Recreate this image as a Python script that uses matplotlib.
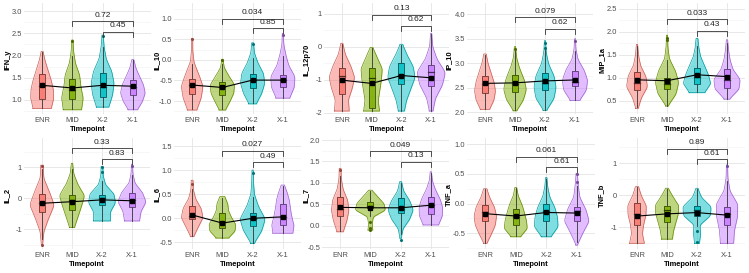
import numpy as np
import matplotlib
matplotlib.use("Agg")
import matplotlib.pyplot as plt
from matplotlib.colors import to_rgb

plt.rcParams['font.family'] = ['Liberation Sans', 'DejaVu Sans']

# ---------------- data ----------------
groups = ["ENR", "MID", "X-2", "X-1"]
colors = ["#F8766D", "#7CAE00", "#00BFC4", "#C77CFF"]
panels = ["IFN_y", "IL_10", "IL_12p70", "IP_10", "MIP_1a",
          "IL_2", "IL_6", "IL_7", "TNF_a", "TNF_b"]

yticks = [[1.0, 1.5, 2.0, 2.5, 3.0], [-1.0, -0.5, 0.0, 0.5, 1.0], [-2, -1, 0, 1],
          [2.0, 2.5, 3.0, 3.5, 4.0], [0.5, 1.0, 1.5, 2.0, 2.5],
          [-1, 0, 1], [-0.5, 0.0, 0.5, 1.0, 1.5], [-0.5, 0.0, 0.5, 1.0, 1.5, 2.0],
          [-0.5, 0.0, 0.5, 1.0], [-1, 0, 1]]
int_ticks = [False, False, True, False, False, True, False, False, False, True]
ylims = [(0.685, 3.18), (-1.317, 1.39), (-2.04, 1.334), (1.965, 4.23), (0.217, 2.63),
         (-1.635, 1.945), (-0.637, 1.666), (-0.541, 2.047), (-0.766, 1.106), (-1.678, 1.79)]

# violin extents and density profile (half-widths, bottom -> top)
v_lo = [[0.81, 0.78, 0.84, 0.78], [-1.22, -1.22, -1.07, -0.93], [-1.95, -1.95, -1.95, -1.95],
        [2.06, 2.03, 2.04, 2.24], [0.34, 0.39, 0.68, 0.54],
        [-1.51, -0.94, -0.73, -0.73], [-0.38, -0.41, -0.52, -0.31], [-0.14, -0.10, -0.29, 0.02],
        [-0.67, -0.56, -0.56, -0.70], [-1.50, -1.37, -1.50, -1.50]]
v_hi = [[2.09, 2.35, 2.46, 1.91], [0.53, 0.02, 0.42, 0.65], [0.11, -0.02, 0.08, 0.41],
        [3.19, 3.34, 3.46, 3.50], [1.73, 1.93, 1.86, 1.83],
        [1.07, 1.13, 1.02, 1.10], [0.79, 0.45, 1.00, 0.69], [1.34, 0.83, 1.03, 1.26],
        [0.25, 0.27, 0.44, 0.51], [0.27, 0.22, 0.22, 0.95]]
v_w = [
    [[0.30, 0.38, 0.37, 0.30, 0.20, 0.10, 0.03], [0.30, 0.36, 0.28, 0.24, 0.10, 0.04, 0.02],
     [0.20, 0.33, 0.38, 0.30, 0.12, 0.05, 0.02], [0.15, 0.32, 0.41, 0.35, 0.22, 0.10, 0.03]],
    [[0.15, 0.30, 0.36, 0.22, 0.06, 0.02, 0.02], [0.10, 0.25, 0.38, 0.40, 0.22, 0.06, 0.02],
     [0.12, 0.30, 0.40, 0.36, 0.18, 0.06, 0.03], [0.22, 0.38, 0.40, 0.20, 0.10, 0.03, 0.02]],
    [[0.25, 0.22, 0.35, 0.43, 0.30, 0.12, 0.03], [0.27, 0.22, 0.28, 0.33, 0.36, 0.20, 0.04],
     [0.10, 0.18, 0.32, 0.46, 0.40, 0.20, 0.04], [0.06, 0.15, 0.38, 0.48, 0.20, 0.05, 0.02]],
    [[0.15, 0.30, 0.35, 0.30, 0.20, 0.10, 0.04], [0.05, 0.28, 0.38, 0.30, 0.15, 0.05, 0.02],
     [0.05, 0.30, 0.37, 0.30, 0.12, 0.04, 0.02], [0.15, 0.38, 0.42, 0.30, 0.10, 0.03, 0.02]],
    [[0.04, 0.15, 0.35, 0.30, 0.12, 0.05, 0.02], [0.03, 0.30, 0.39, 0.28, 0.08, 0.03, 0.02],
     [0.25, 0.46, 0.38, 0.25, 0.12, 0.06, 0.03], [0.08, 0.40, 0.44, 0.20, 0.10, 0.05, 0.02]],
    [[0.02, 0.06, 0.22, 0.41, 0.25, 0.06, 0.04], [0.08, 0.20, 0.32, 0.42, 0.20, 0.06, 0.02],
     [0.28, 0.28, 0.45, 0.40, 0.12, 0.04, 0.03], [0.25, 0.30, 0.47, 0.35, 0.10, 0.03, 0.02]],
    [[0.05, 0.20, 0.36, 0.30, 0.12, 0.04, 0.03], [0.20, 0.42, 0.44, 0.30, 0.20, 0.18, 0.08],
     [0.05, 0.30, 0.42, 0.20, 0.06, 0.03, 0.02], [0.33, 0.37, 0.30, 0.25, 0.22, 0.15, 0.05]],
    [[0.10, 0.22, 0.29, 0.25, 0.10, 0.04, 0.03], [0.08, 0.06, 0.10, 0.50, 0.45, 0.25, 0.05],
     [0.02, 0.08, 0.30, 0.42, 0.30, 0.10, 0.03], [0.25, 0.38, 0.39, 0.30, 0.15, 0.05, 0.02]],
    [[0.05, 0.20, 0.33, 0.37, 0.30, 0.15, 0.05], [0.15, 0.38, 0.35, 0.28, 0.20, 0.08, 0.03],
     [0.15, 0.39, 0.37, 0.28, 0.12, 0.05, 0.02], [0.02, 0.20, 0.41, 0.30, 0.10, 0.05, 0.02]],
    [[0.25, 0.18, 0.22, 0.30, 0.31, 0.15, 0.05], [0.18, 0.22, 0.30, 0.38, 0.39, 0.20, 0.04],
     [0.08, 0.12, 0.10, 0.45, 0.47, 0.15, 0.03], [0.22, 0.25, 0.35, 0.36, 0.10, 0.03, 0.02]],
]

q1 = [[1.02, 1.02, 1.06, 1.11], [-0.84, -0.85, -0.69, -0.67], [-1.44, -1.87, -1.14, -1.19],
      [2.39, 2.42, 2.46, 2.54], [0.74, 0.75, 0.88, 0.78],
      [-0.45, -0.38, -0.22, -0.27], [-0.02, -0.21, -0.15, -0.14], [0.24, 0.42, 0.29, 0.27],
      [-0.29, -0.36, -0.29, -0.29], [-0.93, -0.84, -0.64, -0.93]]
med = [[1.31, 1.23, 1.29, 1.29], [-0.60, -0.66, -0.48, -0.50], [-0.88, -0.94, -0.85, -0.75],
       [2.58, 2.58, 2.60, 2.62], [0.90, 0.88, 1.02, 0.96],
       [-0.15, -0.05, 0.00, -0.05], [0.05, -0.08, -0.02, 0.02], [0.40, 0.47, 0.40, 0.48],
       [-0.15, -0.22, -0.12, -0.12], [-0.60, -0.45, -0.45, -0.60]]
q3 = [[1.58, 1.47, 1.61, 1.45], [-0.46, -0.53, -0.35, -0.37], [-0.65, -0.65, -0.48, -0.55],
      [2.74, 2.77, 2.81, 2.84], [1.12, 1.01, 1.21, 1.19],
      [0.13, 0.11, 0.10, 0.16], [0.26, 0.10, 0.12, 0.29], [0.66, 0.56, 0.64, 0.66],
      [-0.02, -0.09, 0.00, -0.05], [-0.25, -0.32, -0.32, -0.37]]
w_lo = [[0.82, 0.79, 0.85, 0.79], [-1.20, -1.20, -1.05, -0.92], [-1.95, -1.95, -1.95, -1.95],
        [2.07, 2.04, 2.05, 2.25], [0.36, 0.40, 0.69, 0.55],
        [-1.30, -0.92, -0.72, -0.72], [-0.37, -0.40, -0.51, -0.30], [-0.13, 0.22, -0.20, 0.02],
        [-0.66, -0.55, -0.55, -0.65], [-1.48, -1.35, -0.95, -1.48]]
w_hi = [[2.08, 1.98, 2.20, 1.90], [-0.10, -0.10, 0.05, 0.10], [0.08, -0.04, 0.06, 0.38],
        [3.17, 3.25, 3.30, 3.25], [1.70, 1.40, 1.70, 1.75],
        [0.95, 0.95, 0.55, 0.75], [0.60, 0.42, 0.45, 0.68], [1.15, 0.80, 1.00, 1.24],
        [0.24, 0.26, 0.42, 0.30], [0.25, 0.20, 0.20, 0.45]]
means = [[1.33, 1.27, 1.33, 1.31], [-0.61, -0.67, -0.49, -0.49], [-1.01, -1.11, -0.87, -0.94],
         [2.59, 2.60, 2.64, 2.66], [0.96, 0.94, 1.07, 1.03],
         [-0.16, -0.11, -0.05, -0.08], [0.07, -0.10, 0.00, 0.03], [0.43, 0.42, 0.42, 0.48],
         [-0.17, -0.21, -0.15, -0.16], [-0.65, -0.58, -0.54, -0.62]]

out_grp = [[1, 2], [0, 1, 2, 3], [], [1, 2, 2, 3], [1, 1],
           [0, 0, 2, 2, 3], [0, 2], [0, 1, 1, 1, 2], [3, 3], [2, 2, 3]]
out_val = [[2.33, 2.43], [0.50, 0.00, 0.40, 0.62], [], [3.30, 3.42, 3.32, 3.46], [1.87, 1.82],
           [1.05, -1.51, 1.00, 0.85, 1.05], [0.72, 0.95], [1.30, 0.10, -0.05, -0.09, -0.32],
           [0.36, 0.50], [-1.10, -1.45, 0.90]]

p_upper = ["0.72", "0.034", "0.13", "0.079", "0.033", "0.33", "0.027", "0.049", "0.061", "0.89"]
p_lower = ["0.45", "0.85", "0.62", "0.62", "0.43", "0.83", "0.49", "0.13", "0.61", "0.61"]
br_upper = [2.775, 1.00, 0.97, 3.94, 2.28, 1.61, 1.40, 1.74, 0.79, 1.45]
br_lower = [2.535, 0.77, 0.635, 3.70, 2.03, 1.26, 1.16, 1.49, 0.61, 1.125]

# ---------------- layout (pixels) ----------------
W, H = 749, 273
x_lr = [(24, 151), (174, 301), (324, 449), (467, 593), (619, 745),
        (24, 150), (174, 301), (322, 449), (467, 595), (619, 745)]
ylab_x = [7.5, 157, 307, 449, 602, 7, 157, 306, 449, 602]
rows = [(3, 114), (138, 249)]


def darken(c, f=0.55):
    r, g, b = to_rgb(c)
    return (r * f, g * f, b * f)


def profile(lo, hi, widths, n=160):
    ys = np.linspace(lo, hi, n)
    knots = np.linspace(lo, hi, len(widths))
    w = np.interp(ys, knots, widths)
    k = np.exp(-0.5 * (np.arange(-12, 13) / 4.0) ** 2)
    k /= k.sum()
    wp = np.pad(w, 12, mode='edge')
    w = np.convolve(wp, k, mode='valid')
    return ys, w


fig = plt.figure(figsize=(W / 100, H / 100), dpi=100)

for i, name in enumerate(panels):
    T, B = rows[i // 5]
    L, R = x_lr[i]
    ax = fig.add_axes([L / W, 1 - B / H, (R - L) / W, (B - T) / H])
    ax.set_xlim(0.4, 4.6)
    ax.set_ylim(*ylims[i])
    ylo, yhi = ylims[i]
    px = (yhi - ylo) / (B - T)  # data units per pixel

    ax.set_xticks([1, 2, 3, 4])
    ax.set_xticklabels(groups)
    yt = yticks[i]
    ax.set_yticks(yt)
    if int_ticks[i]:
        ax.set_yticklabels([f"{int(v)}" for v in yt])
    else:
        ax.set_yticklabels([f"{v:.1f}" for v in yt])
    step = yt[1] - yt[0]
    minor = [v + step / 2 for v in [yt[0] - step] + list(yt)]
    ax.set_yticks([m for m in minor if ylo < m < yhi], minor=True)
    ax.grid(True, which='major', color='#E4E4E4', lw=0.6)
    ax.grid(True, which='minor', axis='y', color='#F1F1F1', lw=0.4)
    ax.set_axisbelow(True)
    for s in ax.spines.values():
        s.set_visible(False)
    ax.tick_params(axis='both', which='both', length=0, labelsize=5.4,
                   labelcolor='#4D4D4D')
    ax.tick_params(axis='x', pad=2.0)
    ax.tick_params(axis='y', pad=1.4)

    for g in range(4):
        x = g + 1
        c = colors[g]
        ys, w = profile(v_lo[i][g], v_hi[i][g], v_w[i][g])
        ax.fill_betweenx(ys, x - w, x + w, color=c, alpha=0.5, lw=0, zorder=2)
        ax.plot(np.r_[x - w, (x + w)[::-1], (x - w)[0]], np.r_[ys, ys[::-1], ys[0]],
                color=darken(c, 0.8), lw=0.5, zorder=2.1)
        # whiskers
        ax.plot([x, x], [w_lo[i][g], q1[i][g]], color='#333333', lw=0.6, zorder=3)
        ax.plot([x, x], [q3[i][g], w_hi[i][g]], color='#333333', lw=0.6, zorder=3)
        bw = 0.1
        ax.add_patch(plt.Rectangle((x - bw, q1[i][g]), 2 * bw, q3[i][g] - q1[i][g],
                                   facecolor=c, alpha=0.85, edgecolor='none', zorder=3.2))
        ax.add_patch(plt.Rectangle((x - bw, q1[i][g]), 2 * bw, q3[i][g] - q1[i][g],
                                   facecolor='none', edgecolor=darken(c, 0.45), lw=0.6, zorder=3.3))
        ax.plot([x - bw, x + bw], [med[i][g]] * 2, color=darken(c, 0.35), lw=0.9, zorder=3.4)

    for gg, vv in zip(out_grp[i], out_val[i]):
        ax.plot(gg + 1, vv, 'o', ms=2.2, color=darken(colors[gg], 0.6), mec='none', zorder=3.5)

    # mean line & points
    ax.plot([1, 2, 3, 4], means[i], color='black', lw=0.8, zorder=4)
    ax.plot([1, 2, 3, 4], means[i], 's', ms=3.0, color='black', zorder=4.1)

    # brackets
    tip = 5 * px
    for (x1, x2, yb, lab) in [(2, 4, br_upper[i], p_upper[i]), (3, 4, br_lower[i], p_lower[i])]:
        ax.plot([x1, x1, x2, x2], [yb - tip, yb, yb, yb - tip], color='#333333', lw=0.6,
                zorder=5, clip_on=False)
        ax.annotate(lab, xy=((x1 + x2) / 2, yb), xytext=(0, 1.8), textcoords='offset points',
                    ha='center', va='bottom', fontsize=6.0, color='#222222', annotation_clip=False)

    # axis titles
    ax.text(0.5, -15.5 / (B - T), "Timepoint", transform=ax.transAxes,
            ha='center', va='center', fontsize=5.4, fontweight='bold')
    ax.text((ylab_x[i] - L) / (R - L), (B - (T + 57)) / (B - T), name,
            transform=ax.transAxes, ha='center', va='center', rotation=90,
            fontsize=5.4, fontweight='bold')

fig.savefig("out.png", dpi=100)
